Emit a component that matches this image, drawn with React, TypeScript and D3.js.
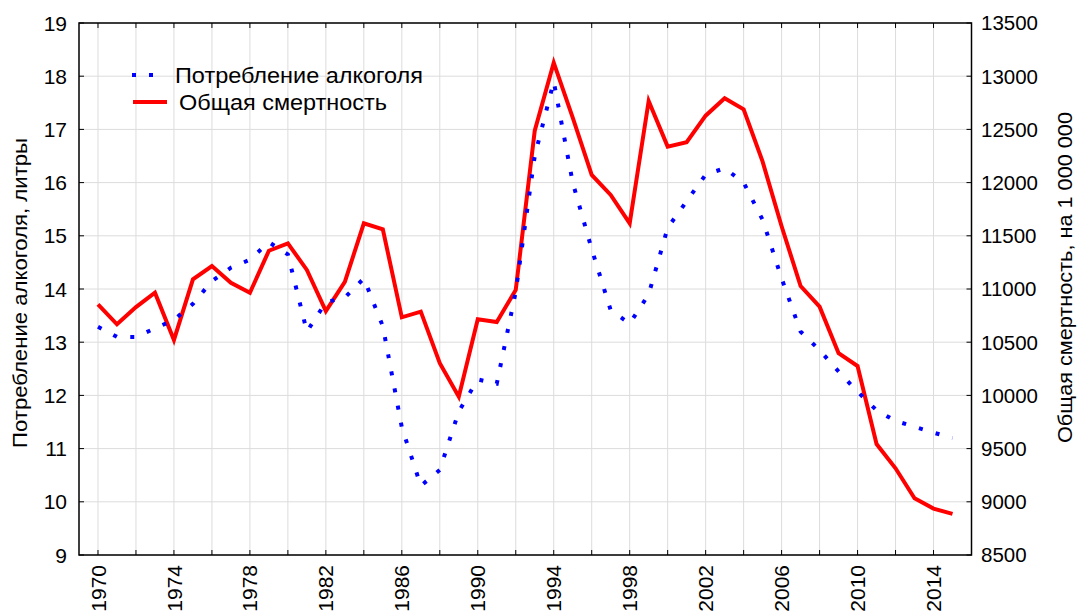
import React from "react";
import * as d3 from "d3";

const years = d3.range(1970, 2016);
const alcohol = [
  13.29, 13.1, 13.1, 13.26, 13.42, 13.72, 14.15, 14.4, 14.55, 14.88,
  14.65, 13.2, 13.75, 13.84, 14.2, 13.3, 11.4, 10.3, 10.6, 11.7,
  12.3, 12.22, 13.95, 16.5, 17.9, 16.0, 14.75, 13.6, 13.35, 13.9,
  15.15, 15.65, 16.15, 16.27, 16.0, 15.3, 14.2, 13.2, 12.85, 12.45,
  12.07, 11.72, 11.52, 11.41, 11.3, 11.2,
];
const mortality = [
  10856, 10668, 10830, 10965, 10521, 11091, 11216, 11059, 10965, 11360,
  11429, 11179, 10793, 11068, 11617, 11561, 10734, 10787, 10302, 9988,
  10715, 10690, 10991, 12488, 13127, 12610, 12072, 11884, 11617, 12767,
  12338, 12379, 12629, 12792, 12689, 12197, 11590, 11028, 10834, 10396,
  10276, 9543, 9315, 9033, 8936, 8886,
];
const leftTicks = d3.range(9, 20, 1);
const rightTicks = d3.range(8500, 13501, 500);
const gridYears = d3.range(1970, 2016, 2);
const labelYears = d3.range(1970, 2015, 4);
const seriesNames = ["Потребление алкоголя", "Общая смертность"];
const leftTitle = "Потребление алкоголя, литры";
const rightTitle = "Общая смертность, на 1 000 000";

const W = 1078;
const H = 612;
const L = 79;
const R = 971.5;
const T = 23;
const B = 555;
const FONT = "'Liberation Sans', Arial, sans-serif";

export default function App() {
  const x = d3.scaleLinear().domain([1969, 2016]).range([L, R]);
  const yL = d3.scaleLinear().domain([9, 19]).range([B, T]);
  const yR = d3.scaleLinear().domain([8500, 13500]).range([B, T]);

  const alcLine = d3
    .line<number>()
    .x((_, i) => x(years[i]))
    .y((d) => yL(d))(alcohol) as string;
  const mortLine = d3
    .line<number>()
    .x((_, i) => x(years[i]))
    .y((d) => yR(d))(mortality) as string;

  const legendAlc = d3.line()([[132, 75], [156, 75]]) as string;
  const legendMort = d3.line()([[133, 102], [167, 102]]) as string;

  return (
    <svg
      width={W}
      height={H}
      style={{ position: "absolute", left: 0, top: 0, background: "#fff" }}
      fontFamily={FONT}
    >
      <rect x={0} y={0} width={W} height={H} fill="#fff" />
      {/* grid */}
      {gridYears.map((yr) => (
        <line key={"gx" + yr} x1={x(yr)} x2={x(yr)} y1={T} y2={B} stroke="#dcdcdc" strokeWidth={1} />
      ))}
      {leftTicks.map((v) => (
        <line key={"gy" + v} x1={L} x2={R} y1={yL(v)} y2={yL(v)} stroke="#dcdcdc" strokeWidth={1} />
      ))}
      {/* ticks */}
      {gridYears.map((yr) => (
        <g key={"tx" + yr}>
          <line x1={x(yr)} x2={x(yr)} y1={T} y2={T + 5} stroke="#000" />
          <line x1={x(yr)} x2={x(yr)} y1={B} y2={B - 5} stroke="#000" />
        </g>
      ))}
      {leftTicks.map((v) => (
        <line key={"tl" + v} x1={L} x2={L + 5} y1={yL(v)} y2={yL(v)} stroke="#000" />
      ))}
      {rightTicks.map((v) => (
        <line key={"tr" + v} x1={R} x2={R - 5} y1={yR(v)} y2={yR(v)} stroke="#000" />
      ))}
      {/* frame */}
      <rect x={L} y={T} width={R - L} height={B - T} fill="none" stroke="#000" strokeWidth={1.5} />
      {/* series */}
      <path d={mortLine} fill="none" stroke="#ff0000" strokeWidth={4} strokeLinejoin="miter" />
      <path d={alcLine} fill="none" stroke="#0000ff" strokeWidth={4} strokeDasharray="4 13.4" />
      {/* tick labels */}
      {leftTicks.map((v) => (
        <text key={"ll" + v} x={67} y={yL(v)} dy="0.36em" textAnchor="end" fontSize={21} fill="#000">
          {v}
        </text>
      ))}
      {rightTicks.map((v) => (
        <text key={"rl" + v} x={981} y={yR(v)} dy="0.36em" textAnchor="start" fontSize={20.5} fill="#000">
          {v}
        </text>
      ))}
      {labelYears.map((yr) => (
        <text
          key={"xl" + yr}
          transform={`translate(${x(yr)},565) rotate(-90)`}
          dy="0.36em"
          textAnchor="end"
          fontSize={21}
          fill="#000"
        >
          {yr}
        </text>
      ))}
      {/* axis titles */}
      <text
        transform={`translate(20,293) rotate(-90)`}
        dy="0.36em"
        textAnchor="middle"
        fontSize={20}
        textLength={310}
        lengthAdjust="spacingAndGlyphs"
        fill="#000"
      >
        {leftTitle}
      </text>
      <text
        transform={`translate(1065,277.5) rotate(-90)`}
        dy="0.36em"
        textAnchor="middle"
        fontSize={20}
        textLength={331}
        lengthAdjust="spacingAndGlyphs"
        fill="#000"
      >
        {rightTitle}
      </text>
      {/* legend */}
      <path d={legendAlc} stroke="#0000ff" strokeWidth={4} strokeDasharray="4 13" fill="none" />
      <text x={175} y={75} dy="0.36em" fontSize={22} textLength={248} lengthAdjust="spacingAndGlyphs" fill="#000">
        {seriesNames[0]}
      </text>
      <path d={legendMort} stroke="#ff0000" strokeWidth={4} fill="none" />
      <text x={179} y={102} dy="0.36em" fontSize={22} textLength={208} lengthAdjust="spacingAndGlyphs" fill="#000">
        {seriesNames[1]}
      </text>
    </svg>
  );
}
